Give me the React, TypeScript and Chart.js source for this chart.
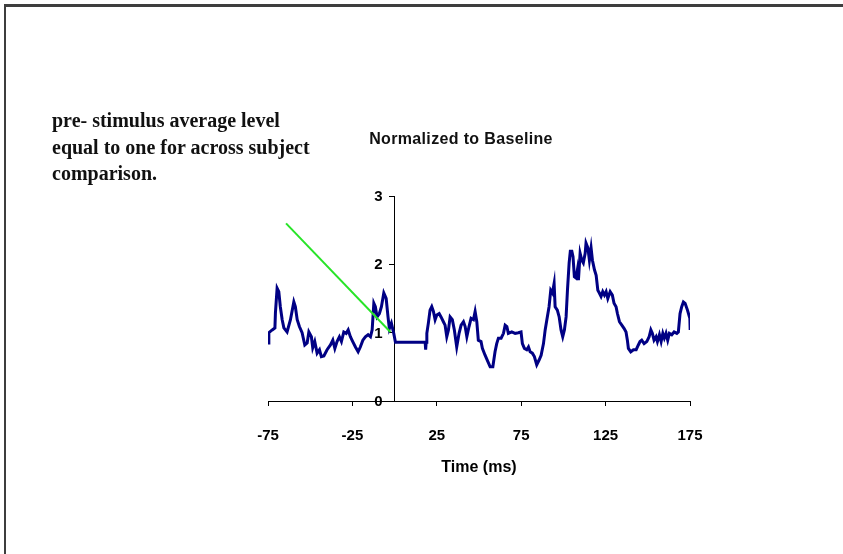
import React, { useEffect, useRef } from "react";
import { Chart, registerables } from "chart.js";

Chart.register(...registerables);

// Normalized response over time (ms); pre-stimulus mean scaled to 1
const timeMs = [
  -75, -74.5, -72.5, -70.9, -70.6, -69.6, -68.6, -67.7, -66.6, -65.6, -63.7, -61.7, -59.7, -58.8, -57.7, -56.4,
  -54.8, -53.2, -51.8, -50.8, -49.3, -48.5, -47.3, -45.9, -44.5, -43.4, -41.9, -40.0, -38.0, -36.6, -35.4, -34.1,
  -32.7, -31.5, -30.1, -28.7, -27.5, -26.2, -24.8, -23.2, -21.6, -20.3, -18.8, -17.3, -15.7, -14.3, -13.3, -12.3,
  -11.4, -10.4, -9.0, -7.8, -6.4, -5.0, -3.9, -3.1, -1.9, -0.5, 0.5,
  18.1, 18.4, 18.7, 19.1, 20.0, 21.0, 22.0, 23.0, 24.0, 25.0, 26.4, 27.5, 28.9, 29.9, 30.9, 31.9, 32.9, 34.2,
  35.4, 36.8, 38.2, 39.4, 40.8, 41.8, 42.8, 44.1, 45.3, 46.7, 47.7, 48.7, 49.6, 51.2, 52.0, 53.6, 55.2, 56.6,
  58.2, 59.5, 60.5, 61.5, 63.1, 64.5, 65.5, 66.5, 67.4, 69.4, 71.4, 73.3, 74.9, 75.7, 76.9, 78.3, 79.3, 80.3,
  81.6, 82.8, 84.2, 85.6, 86.8, 88.2, 89.2, 90.2, 91.5, 92.5, 93.5, 94.5, 95.1, 96.4, 97.5, 98.6, 99.6, 100.6,
  101.6, 102.4, 103.4, 104.1, 105.0, 105.7, 106.5, 107.5, 108.3, 108.9, 109.9, 110.9, 111.8, 112.9, 113.4, 114.5,
  115.4, 116.4, 117.2, 118.4, 119.4, 120.4, 121.3, 122.3, 123.3, 124.3, 125.3, 126.3, 127.7, 129.0, 130.0, 131.2,
  132.0, 133.2, 134.6, 136.0, 137.1, 137.9, 138.5, 139.9, 141.5, 143.1, 144.4, 145.4, 146.4, 147.8, 149.4, 150.8,
  151.8, 152.7, 153.7, 154.9, 155.7, 156.9, 157.9, 158.9, 159.8, 160.8, 161.8, 162.8, 164.2, 165.6, 167.2, 168.1,
  169.1, 170.1, 171.1, 172.1, 173.5, 174.9, 175.1,
];

const normalized = [
  0.85, 1.0, 1.04, 1.07, 1.29, 1.65, 1.6, 1.38, 1.19, 1.07, 1.01, 1.19, 1.45, 1.38, 1.19, 1.09,
  1.0, 0.82, 0.85, 1.01, 0.94, 0.78, 0.87, 0.7, 0.75, 0.65, 0.66, 0.75, 0.82, 0.89, 0.77, 0.87,
  0.94, 0.87, 1.01, 0.99, 1.04, 0.94, 0.87, 0.79, 0.72, 0.79, 0.89, 0.94, 0.97, 0.94, 1.04, 1.43,
  1.38, 1.23, 1.28, 1.38, 1.58, 1.5, 1.23, 1.06, 1.14, 0.99, 0.86,
  0.86, 0.75, 0.86, 0.99, 1.14, 1.33, 1.38, 1.31, 1.19, 1.26, 1.28, 1.23, 1.16, 1.11, 0.94, 1.04, 1.23, 1.19,
  1.04, 0.79, 0.99, 1.11, 1.16, 1.09, 0.94, 1.09, 1.21, 1.19, 1.31, 1.16, 0.89, 0.87, 0.77, 0.67, 0.58, 0.5,
  0.5, 0.72, 0.84, 0.92, 0.92, 0.99, 1.11, 1.09, 0.99, 1.01, 0.99, 1.0, 1.01, 0.84, 0.77, 0.75, 0.79, 0.72,
  0.7, 0.65, 0.53, 0.6, 0.67, 0.84, 1.04, 1.19, 1.38, 1.62, 1.58, 1.72, 1.38, 1.33, 1.23, 1.04, 0.94, 1.04,
  1.23, 1.62, 2.02, 2.19, 2.19, 2.11, 1.82, 1.8, 1.92, 1.77, 2.16, 2.06, 2.02, 2.16, 2.31, 2.24,
  2.06, 2.24, 2.06, 1.92, 1.84, 1.62, 1.58, 1.53, 1.6, 1.55, 1.6, 1.5, 1.6, 1.55, 1.43, 1.38,
  1.28, 1.16, 1.11, 1.06, 1.01, 0.89, 0.77, 0.72, 0.75, 0.75, 0.82, 0.87, 0.89, 0.84, 0.87, 0.94,
  1.04, 0.99, 0.89, 0.94, 0.87, 0.97, 0.87, 0.99, 0.92, 0.99, 0.89, 0.99, 0.97, 1.01, 0.99, 1.01,
  1.28, 1.38, 1.45, 1.43, 1.33, 1.21, 1.04,
];

// Pointer line from the note towards the baseline level
const pointerTime = [-64.3, -2.5];
const pointerLevel = [2.6, 1.01];

const xTicks = [-75, -25, 25, 75, 125, 175];
const yTicks = [0, 1, 2, 3];

const noteLines = [
  "pre- stimulus average level",
  "equal to one for across subject",
  "comparison.",
];
const chartTitle = "Normalized to Baseline";
const xTitle = "Time (ms)";

const sansFamily = "'Liberation Sans', Arial, sans-serif";
const tickFont = { family: sansFamily, size: 15, weight: "bold" as const };
const titleFont = { family: sansFamily, size: 16, weight: "bold" as const };

// The y axis crosses at time 0; its labels sit to the left of the axis line
const yLabelPlugin = {
  id: "yAxisLabels",
  afterDraw(chart: any) {
    const { ctx, scales } = chart;
    const xs = scales.x;
    const ys = scales.y;
    const axisX = xs.getPixelForValue(0);
    ctx.save();
    ctx.font = `bold ${tickFont.size}px ${sansFamily}`;
    ctx.fillStyle = "#000";
    ctx.textAlign = "right";
    ctx.textBaseline = "middle";
    yTicks.forEach((v) => {
      ctx.fillText(String(v), axisX - 12, ys.getPixelForValue(v) + 1);
    });
    ctx.restore();
  },
};

export default function App() {
  const canvasRef = useRef<HTMLCanvasElement | null>(null);

  useEffect(() => {
    const canvas = canvasRef.current;
    if (!canvas) return;
    const series = timeMs.map((t, i) => ({ x: t, y: normalized[i] }));
    const pointer = pointerTime.map((t, i) => ({ x: t, y: pointerLevel[i] }));

    const chart = new Chart(canvas, {
      type: "line",
      data: {
        datasets: [
          {
            data: pointer,
            borderColor: "#28e428",
            borderWidth: 2,
            pointRadius: 0,
            tension: 0,
            order: 0,
          },
          {
            data: series,
            borderColor: "#000084",
            borderWidth: 3,
            pointRadius: 0,
            tension: 0,
            borderJoinStyle: "miter",
            order: 1,
          },
        ],
      },
      options: {
        animation: false,
        responsive: false,
        events: [],
        layout: { padding: { left: 268, right: 153, top: 196, bottom: 74 } },
        plugins: {
          legend: { display: false },
          tooltip: { enabled: false },
          title: { display: false },
        },
        scales: {
          x: {
            type: "linear",
            min: -75,
            max: 175,
            position: "bottom",
            afterBuildTicks: (axis: any) => {
              axis.ticks = xTicks.map((v) => ({ value: v }));
            },
            afterFit: (axis: any) => {
              axis.height = 79;
            },
            grid: { display: true, drawOnChartArea: false, drawTicks: true, tickLength: 5, color: "#000" },
            border: { display: true, color: "#000", width: 1 },
            ticks: { color: "#000", font: tickFont, padding: 21, maxRotation: 0, autoSkip: false },
            title: { display: true, text: xTitle, color: "#000", font: titleFont, padding: { top: 12, bottom: 3 } },
          },
          y: {
            type: "linear",
            min: 0,
            max: 3,
            position: { x: 0 } as any,
            afterBuildTicks: (axis: any) => {
              axis.ticks = yTicks.map((v) => ({ value: v }));
            },
            grid: { display: true, drawOnChartArea: false, drawTicks: true, tickLength: 5, color: "#000" },
            border: { display: true, color: "#000", width: 1 },
            ticks: { display: false },
          },
        },
      },
      plugins: [yLabelPlugin],
    });
    return () => chart.destroy();
  }, []);

  return (
    <div style={{ position: "absolute", left: 0, top: 0, width: 843, height: 554, background: "#fff", overflow: "hidden" }}>
      <div
        style={{
          position: "absolute",
          left: 4,
          top: 4,
          width: 845,
          height: 560,
          borderTop: "3px solid #3e3e3e",
          borderLeft: "2px solid #3e3e3e",
        }}
      />
      <canvas ref={canvasRef} width={843} height={554} style={{ position: "absolute", left: 0, top: 0 }} />
      <div
        style={{
          position: "absolute",
          left: 0,
          top: 128,
          width: 922,
          textAlign: "center",
          fontFamily: sansFamily,
          fontWeight: "bold",
          fontSize: 16,
          letterSpacing: "0.35px",
          lineHeight: "22px",
          color: "#111",
        }}
      >
        {chartTitle}
      </div>
      <div
        style={{
          position: "absolute",
          left: 52,
          top: 107,
          fontFamily: "'Liberation Serif', 'Times New Roman', serif",
          fontWeight: "bold",
          fontSize: 20,
          lineHeight: "26.5px",
          color: "#111",
          whiteSpace: "nowrap",
        }}
      >
        {noteLines.map((l) => (
          <div key={l}>{l}</div>
        ))}
      </div>
    </div>
  );
}
